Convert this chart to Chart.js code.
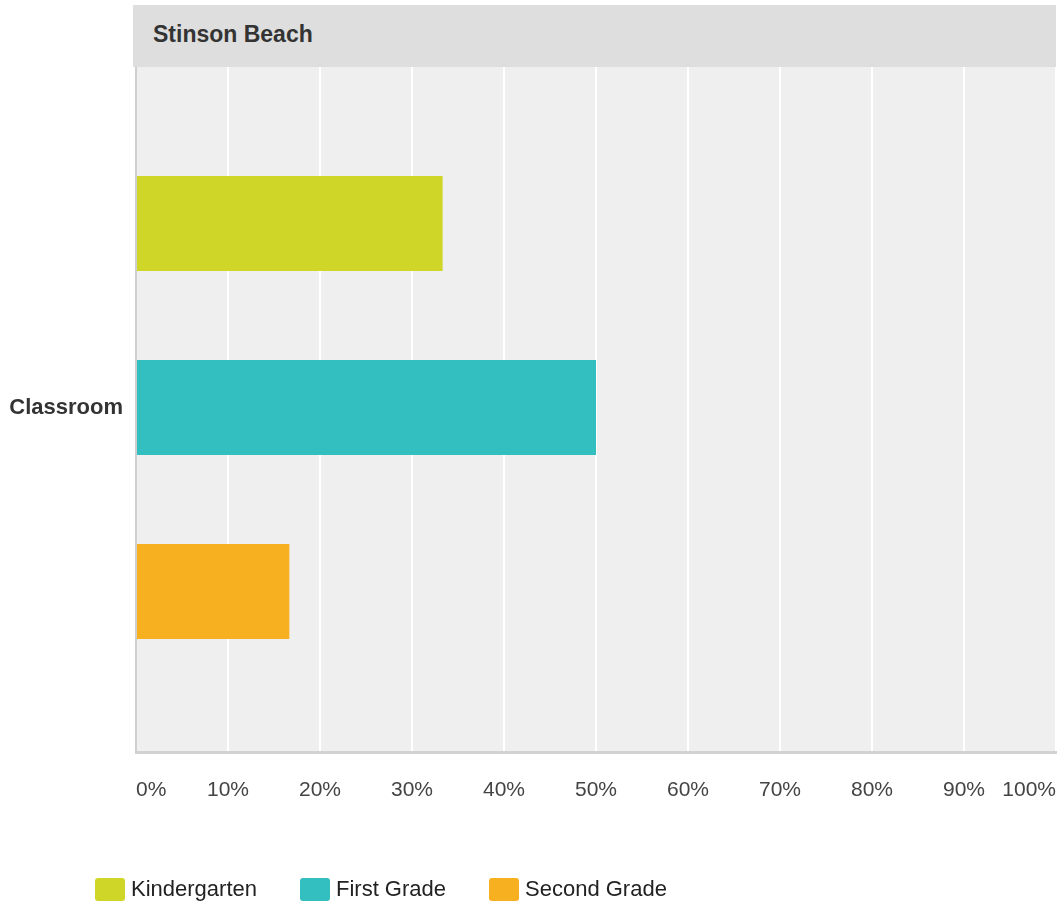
<!DOCTYPE html>
<html>
<head>
<meta charset="utf-8">
<script src="https://cdn.jsdelivr.net/npm/chart.js@4/dist/chart.umd.min.js"></script>
<style>
  html, body { margin:0; padding:0; background:#fff; }
  #wrap { position:relative; width:1064px; height:905px; font-family:"Liberation Sans", Arial, sans-serif; }
  #chart { position:absolute; left:0; top:0; }
  #header { position:absolute; left:133px; top:5px; width:923px; height:62px; background:#dedede;
            font-weight:bold; font-size:23px; color:#333; line-height:58px; box-sizing:border-box; padding-left:20px; }
  #legend { position:absolute; left:95px; top:876px; display:flex; font-size:22px; color:#222; }
  #legend .item { display:flex; align-items:center; margin-right:43px; }
  #legend .box { width:30px; height:23px; border-radius:3px; margin-right:6px; }
</style>
</head>
<body>
<div id="wrap">
  <canvas id="chart" width="1064" height="905"></canvas>
  <div id="header">Stinson Beach</div>
  <div id="legend"></div>
</div>
<script>
const categories = ['Classroom'];
const seriesNames = ['Kindergarten', 'First Grade', 'Second Grade'];
const kindergarten = [33.33];
const firstGrade = [50.0];
const secondGrade = [16.67];
const seriesColors = ['#cfd628', '#33bec0', '#f7b020'];
const xTicks = [0, 10, 20, 30, 40, 50, 60, 70, 80, 90, 100];

const plotBg = {
  id: 'plotBg',
  beforeDraw(chart){
    const a = chart.chartArea, c = chart.ctx;
    c.save();
    c.fillStyle = '#efefef';
    c.fillRect(a.left, a.top, a.right - a.left, a.bottom - a.top);
    c.restore();
  }
};

const values = [kindergarten, firstGrade, secondGrade];
const ctx = document.getElementById('chart').getContext('2d');
const chart = new Chart(ctx, {
  type: 'bar',
  data: {
    labels: categories,
    datasets: seriesNames.map((n, i) => ({
      label: n,
      data: values[i],
      backgroundColor: seriesColors[i],
      categoryPercentage: 0.801,
      barPercentage: 0.516
    }))
  },
  options: {
    indexAxis: 'y',
    responsive: false,
    animation: false,
    layout: { padding: { left: 10, right: 8, top: 63, bottom: 0 } },
    plugins: { legend: { display: false }, tooltip: { enabled: false } },
    scales: {
      x: {
        min: 0, max: 100,
        afterBuildTicks: s => { s.ticks = xTicks.map(v => ({ value: v })); },
        afterFit: s => { s.height = 153; s.paddingLeft = 0; s.paddingRight = 0; },
        grid: { color: '#ffffff', lineWidth: 2, drawTicks: false },
        border: { color: '#d2d2d2', width: 3 },
        ticks: {
          align: 'inner', padding: 26, color: '#444',
          font: { family: '"Liberation Sans", Arial, sans-serif', size: 21 },
          callback: v => v + '%'
        }
      },
      y: {
        afterFit: s => { s.width = 126; },
        grid: { display: false, drawTicks: false },
        border: { color: '#cfcfcf', width: 2 },
        ticks: {
          padding: 13, color: '#333',
          font: { family: '"Liberation Sans", Arial, sans-serif', size: 22, weight: 'bold' }
        }
      }
    }
  },
  plugins: [plotBg]
});

const $legend = document.getElementById('legend');
chart.data.datasets.forEach(ds => {
  const item = document.createElement('div');
  item.className = 'item';
  item.innerHTML = `<span class="box" style="background:${ds.backgroundColor}"></span><span>${ds.label}</span>`;
  $legend.appendChild(item);
});
</script>
</body>
</html>
